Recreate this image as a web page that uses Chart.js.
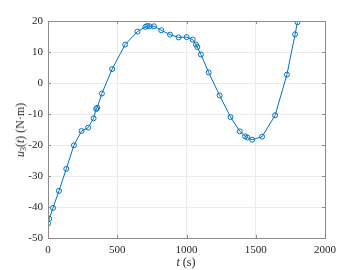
<!DOCTYPE html>
<html>
<head>
<meta charset="utf-8">
<title>u3(t)</title>
<script src="https://cdn.jsdelivr.net/npm/chart.js@4"></script>
<style>
html, body { margin: 0; padding: 0; background: #fff; }
#wrap { position: relative; width: 360px; height: 270px; }
.lbl { position: absolute; font-family: "Liberation Serif", "Times New Roman", serif; font-size: 12px; color: #262626; white-space: nowrap; line-height: 1; }
.lbl sub { font-size: 8px; vertical-align: -2px; }
#ylab { left: 21px; top: 130px; transform: translate(-50%, -50%) rotate(-90deg); }
#xlab { left: 186px; top: 262px; transform: translate(-50%, -50%); }
</style>
</head>
<body>
<div id="wrap">
  <canvas id="torqueChart" width="360" height="270"></canvas>
  <div class="lbl" id="ylab"><i>u</i><sub>3</sub>(<i>t</i>) (N·m)</div>
  <div class="lbl" id="xlab"><i>t</i> (s)</div>
</div>
<script>
// data
const timeValues = [0, 9, 36, 79, 132, 187, 242, 290, 329, 348, 355, 389, 463, 557, 646, 703, 717, 734, 765, 818, 881, 943, 1001, 1045, 1068, 1078, 1104, 1160, 1239, 1318, 1385, 1423, 1440, 1474, 1546, 1640, 1725, 1784, 1801];
const torqueValues = [-45.3, -43.8, -40.3, -34.8, -27.7, -20.1, -15.5, -14.4, -11.4, -8.4, -8.0, -3.4, 4.5, 12.4, 16.6, 18.1, 18.4, 18.3, 18.3, 17.0, 15.6, 14.7, 14.8, 14.0, 12.4, 11.6, 9.2, 3.4, -4.0, -11.0, -15.6, -17.2, -17.6, -18.3, -17.3, -10.4, 2.7, 15.7, 19.6];
const xTicks = [0, 500, 1000, 1500, 2000];
const yTicks = [-50, -40, -30, -20, -10, 0, 10, 20];

const lineColor = '#0072BD';
const axisColor = '#262626';
const tickFont = { family: "'Liberation Serif', 'Times New Roman', serif", size: 11 };

// kotak sumbu + tick ke dalam ala MATLAB
const axesBox = {
    id: 'axesBox',
    afterDraw(chart) {
        const { ctx, chartArea: a, scales } = chart;
        ctx.save();
        ctx.strokeStyle = '#8a8a8a';
        ctx.lineWidth = 1;
        ctx.strokeRect(Math.round(a.left) + 0.5, Math.round(a.top) + 0.5,
            Math.round(a.right - a.left), Math.round(a.bottom - a.top));
        ctx.beginPath();
        xTicks.forEach(v => {
            const px = Math.round(scales.x.getPixelForValue(v)) + 0.5;
            ctx.moveTo(px, a.bottom); ctx.lineTo(px, a.bottom - 3);
            ctx.moveTo(px, a.top); ctx.lineTo(px, a.top + 3);
        });
        yTicks.forEach(v => {
            const py = Math.round(scales.y.getPixelForValue(v)) + 0.5;
            ctx.moveTo(a.left, py); ctx.lineTo(a.left + 3, py);
            ctx.moveTo(a.right, py); ctx.lineTo(a.right - 3, py);
        });
        ctx.stroke();
        ctx.restore();
    }
};

function initTorqueChart() {
    const ctx = document.getElementById('torqueChart').getContext('2d');
    const points = timeValues.map((t, i) => ({ x: t, y: torqueValues[i] }));

    new Chart(ctx, {
        type: 'scatter',
        data: {
            datasets: [{
                data: points,
                showLine: true,
                borderColor: lineColor,
                borderWidth: 1,
                pointRadius: 2.5,
                pointBorderWidth: 1,
                pointBorderColor: lineColor,
                pointBackgroundColor: 'rgba(0,0,0,0)',
                tension: 0
            }]
        },
        options: {
            responsive: false,
            animation: false,
            layout: { padding: { top: 21, right: 35, left: 0, bottom: 0 } },
            plugins: {
                legend: { display: false },
                tooltip: { enabled: false }
            },
            scales: {
                x: {
                    type: 'linear',
                    min: 0,
                    max: 2000,
                    afterFit: s => { s.height = 32; },
                    afterBuildTicks: s => { s.ticks = xTicks.map(v => ({ value: v })); },
                    grid: { color: '#ebebeb', drawTicks: false },
                    border: { display: false },
                    ticks: {
                        color: axisColor, font: tickFont, padding: 6, maxRotation: 0,
                        callback: v => String(v)
                    }
                },
                y: {
                    type: 'linear',
                    min: -50,
                    max: 20,
                    afterFit: s => { s.width = 48; },
                    afterBuildTicks: s => { s.ticks = yTicks.map(v => ({ value: v })); },
                    grid: { color: '#ebebeb', drawTicks: false },
                    border: { display: false },
                    ticks: {
                        color: axisColor, font: tickFont, padding: 5,
                        callback: v => String(v)
                    }
                }
            }
        },
        plugins: [axesBox]
    });
}

document.addEventListener('DOMContentLoaded', function() {
    initTorqueChart();
});
</script>
</body>
</html>
